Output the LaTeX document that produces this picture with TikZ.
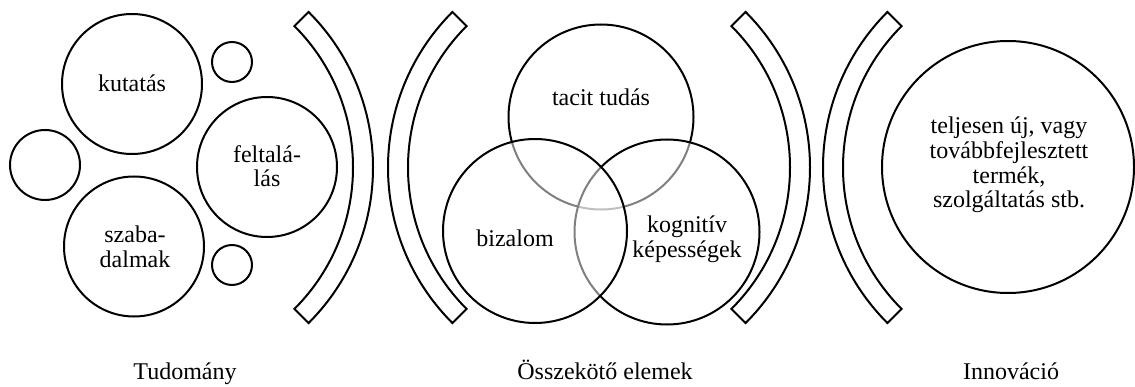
\documentclass[tikz,border=0pt]{standalone}
\usepackage{fontspec}
\setmainfont{Liberation Serif}

\tikzset{
  bubble/.style={draw, circle, line width=1pt, inner sep=0pt},
  venn/.style={bubble, fill=white, fill opacity=0.5, minimum size=92.5pt},
  band/.style={draw, line width=1pt},
  txt/.style={anchor=base, align=center, inner sep=0pt,
    font=\fontsize{12}{12.4}\selectfont}
}

\begin{document}
\begin{tikzpicture}[x=0.5pt, y=0.5pt]
  \useasboundingbox (0,0) rectangle (1135,386);

  % tudomany: big and small bubbles
  \node[bubble, minimum size=70pt] (kutatas) at (132,302) {};
  \node[bubble, minimum size=70pt] (feltalalas) at (267,219) {};
  \node[bubble, minimum size=70pt] (szabadalmak) at (134,139.5) {};
  \node[bubble, minimum size=35pt] (bal) at (45,221) {};
  \node[bubble, minimum size=20pt] (felso) at (232,324) {};
  \node[bubble, minimum size=20pt] (also) at (232,121) {};

  % (base of a two-line text is its last line)
  \node[txt] (kutatasT) at (132,294) {kutatás};
  \node[txt] (feltalalasT) at (267,199) {feltalá-\\lás};
  \node[txt] (szabadalmakT) at (135,119) {szaba-\\dalmak};

  % curved bands between the groups
  \foreach \cx/\a in {153/0, 608/180, 590/0, 1043/180}
    \draw[band] (\cx,218.5) ++(\a+45:220)
      arc[start angle=\a+45, end angle=\a-45, radius=220]
      -- ++(\a-45:-20)
      arc[start angle=\a-45, end angle=\a+45, radius=200] -- cycle;

  % osszekoto elemek: venn diagram
  \node[venn] (tacit) at (601,269) {};
  \node[venn] (kognitiv) at (667,154) {};
  \node[venn, minimum size=92pt] (bizalom) at (535,155) {};

  \node[txt] (tacitT) at (601,280) {tacit tudás};
  \node[txt] (bizalomT) at (515,140) {bizalom};
  \node[txt] (kognitivT) at (687,129) {kognitív\\képességek};

  % innovacio
  \node[bubble, minimum size=126pt] (innovacio) at (1008,219) {};
  \node[txt] (innovacioT) at (1009,178)
    {teljesen új, vagy\\továbbfejlesztett\\termék,\\szolgáltatás stb.};

  % captions
  \node[txt] (tudomany) at (185,7) {Tudomány};
  \node[txt] (osszekoto) at (605,7) {Összekötő elemek};
  \node[txt] (innov) at (1011,7) {Innováció};
\end{tikzpicture}
\end{document}
